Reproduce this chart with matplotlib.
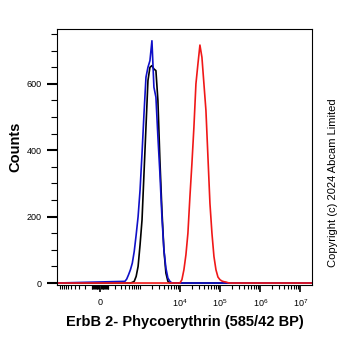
import matplotlib
matplotlib.use("Agg")
import matplotlib.pyplot as plt
from matplotlib.ticker import FixedLocator, NullFormatter

plt.rcParams['font.family'] = ['Liberation Sans', 'DejaVu Sans']
plt.rcParams['mathtext.fontset'] = 'custom'
plt.rcParams['mathtext.rm'] = 'Liberation Sans'

# bin centres (PE intensity) and counts
low_bins = [397, 445, 499, 560, 628, 704, 790, 886, 994, 1115, 1251, 1403, 1574,
            1766, 1981, 2222, 2493, 2797, 3138, 3520, 3949, 4431, 4967, 5573, 6253, 7015]
black_counts = [0, 0, 0, 0, 2, 5, 20, 50, 115, 190, 330, 470, 610,
                650, 655, 645, 640, 550, 370, 220, 100, 30, 5, 0, 0, 0]
blue_counts = [5, 12, 25, 40, 60, 95, 145, 200, 280, 390, 510, 620, 650,
               670, 730, 590, 560, 440, 330, 200, 100, 45, 15, 5, 0, 0]

high_bins = [9905, 11110, 12470, 13990, 15690, 17610, 19750, 22160, 24860, 27890,
             31290, 35110, 39380, 44180, 49570, 55610, 62390, 69990, 78520, 88090,
             98820, 110900, 124400, 139500, 156500, 175600]
red_counts = [0, 10, 40, 85, 150, 260, 360, 470, 600, 660,
              717, 680, 600, 520, 380, 240, 150, 80, 40, 18,
              10, 6, 4, 3, 1, 0]

x_min, x_max = -1190, 1.96e7
tick_vals = [0, 1e4, 1e5, 1e6, 1e7]
tick_text = ['0', '10$^4$', '10$^5$', '10$^6$', '10$^7$']


def with_baseline(bins, counts):
    return [x_min] + bins + [x_max], [0] + counts + [0]


def main():
    fig = plt.figure(figsize=(3.62, 3.51), dpi=100)
    ax = fig.add_axes([0.157, 0.188, 0.705, 0.729])
    ax.set_xscale('asinh', linear_width=201)

    for bins, counts, color in [(low_bins, black_counts, '#000000'),
                                (low_bins, blue_counts, '#1010c8'),
                                (high_bins, red_counts, '#f01818')]:
        xs, ys = with_baseline(bins, counts)
        ax.plot(xs, ys, color=color, lw=1.2)

    ax.set_xlim(x_min, x_max)
    ax.set_ylim(-6, 765)

    minor = []
    for step in [10, 100]:
        for k in range(1, 10):
            minor += [k * step, -k * step]
    minor.append(-1000)
    for dec in [1e3, 1e4, 1e5, 1e6]:
        minor += [k * dec for k in range(1, 10)]
    ax.xaxis.set_major_locator(FixedLocator(tick_vals))
    ax.set_xticklabels(tick_text)
    ax.xaxis.set_minor_locator(FixedLocator(minor))
    ax.xaxis.set_minor_formatter(NullFormatter())

    ax.set_yticks([0, 200, 400, 600])
    ax.yaxis.set_minor_locator(FixedLocator(list(range(50, 751, 50))))

    ax.tick_params(axis='y', which='major', length=7, width=1.5, labelsize=6.5, pad=4)
    ax.tick_params(axis='y', which='minor', length=4, width=0.8)
    ax.tick_params(axis='x', which='major', length=5, width=1.2, labelsize=6.5, pad=4)
    ax.tick_params(axis='x', which='minor', length=3, width=0.8)
    for s in ax.spines.values():
        s.set_linewidth(0.8)

    ax.set_xlabel('ErbB 2- Phycoerythrin (585/42 BP)', fontsize=10.5, fontweight='bold', labelpad=4)
    ax.set_ylabel('Counts', fontsize=10.5, fontweight='bold')
    ax.yaxis.set_label_coords(-0.135, 0.54)
    fig.text(0.92, 0.479, 'Copyright (c) 2024 Abcam Limited', rotation=90,
             fontsize=8, ha='center', va='center')

    fig.savefig('out.png', dpi=100)


if __name__ == "__main__":
    main()
